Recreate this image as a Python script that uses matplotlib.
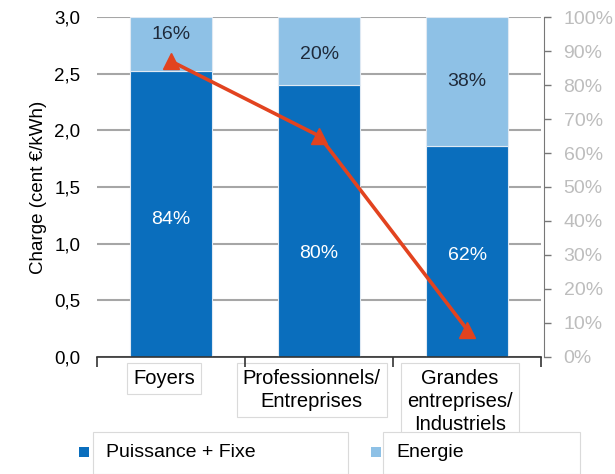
import numpy as np
import matplotlib
matplotlib.use("Agg")
import matplotlib.pyplot as plt
from matplotlib.patches import Rectangle

# charge breakdown per customer segment
categories = ["Foyers", "Professionnels/\nEntreprises", "Grandes\nentreprises/\nIndustriels"]
total_charge = [3.0, 3.0, 3.0]
share_fixed = [84, 80, 62]      # Puissance + Fixe (%)
share_energy = [16, 20, 38]     # Energie (%)
line_pct = [87, 65, 8]          # right axis (%)

# relative height of the in-bar labels inside each segment
fixed_label_pos = [0.48, 0.38, 0.48]
energy_label_pos = [0.68, 0.45, 0.5]

DARK = "#0A6EBD"
LIGHT = "#8EC1E6"
RED = "#E2431F"
GRID = "#A6A6A6"

plt.rcParams["font.family"] = ["Liberation Sans", "DejaVu Sans"]

fig = plt.figure(figsize=(6.15, 4.74), dpi=100)
ax = fig.add_axes([0.158, 0.247, 0.722, 0.717])

x = np.arange(len(categories))
fixed = np.array(total_charge) * np.array(share_fixed) / 100
energy = np.array(total_charge) * np.array(share_energy) / 100

ax.set_axisbelow(True)
ax.yaxis.grid(True, color=GRID, lw=1.5)
w = 0.55
ax.bar(x, fixed, w, color=DARK, edgecolor="#dfe9f3", lw=0.8, zorder=2)
ax.bar(x, energy, w, bottom=fixed, color=LIGHT, edgecolor="#dfe9f3", lw=0.8, zorder=2)

for i, (f, e) in enumerate(zip(fixed, energy)):
    ax.text(x[i], f * fixed_label_pos[i], f"{share_fixed[i]}%", ha="center", va="center",
            color="white", fontsize=14, zorder=3)
    ax.text(x[i], f + e * energy_label_pos[i], f"{share_energy[i]}%", ha="center", va="center",
            color="#1f2a3a", fontsize=14, zorder=3)

ax.set_xlim(-0.5, 2.5)
ax.set_ylim(0, 3.0)
ax.set_yticks(np.arange(0, 3.01, 0.5))
ax.set_yticklabels([f"{v:.1f}".replace(".", ",") for v in np.arange(0, 3.01, 0.5)], fontsize=13.5)
ax.tick_params(axis="y", length=0, pad=12)
ax.set_ylabel("Charge (cent €/kWh)", fontsize=13.5, labelpad=5)

for s in ["top", "left", "right"]:
    ax.spines[s].set_visible(False)
ax.spines["bottom"].set_color("#333333")
ax.spines["bottom"].set_linewidth(1.2)

ax.set_xticks([-0.5, 0.5, 1.5, 2.5], minor=True)
ax.tick_params(axis="x", which="minor", length=7, color="#333333", width=1.2)
ax.set_xticks(x - 0.05)
ax.set_xticklabels(categories, fontsize=14.5, linespacing=1.25)
ax.tick_params(axis="x", which="major", length=0, pad=9)
for lab in ax.get_xticklabels():
    lab.set_va("top")
    lab.set_bbox(dict(boxstyle="square,pad=0.3", fc="white", ec="#dadada", lw=0.8))

# percentage axis on the right
ax2 = ax.twinx()
ax2.set_ylim(0, 100)
ax2.set_yticks(np.arange(0, 101, 10))
ax2.set_yticklabels([f"{v}%" for v in range(0, 101, 10)])
ax2.tick_params(axis="y", length=5, color="#777777", width=1, pad=9,
                labelsize=14, labelcolor="#BDBDBD")
for s in ["top", "left", "bottom"]:
    ax2.spines[s].set_visible(False)
ax2.spines["right"].set_color("#777777")
ax2.spines["right"].set_position(("data", 2.52))
ax2.plot(x, line_pct, color=RED, lw=2.6, marker="^", ms=11, zorder=5)

# legend boxes along the bottom
fig.patches.append(Rectangle((0.151, 0.0), 0.415, 0.088, transform=fig.transFigure,
                             fc="white", ec="#dadada", lw=0.8))
fig.patches.append(Rectangle((0.623, 0.0), 0.32, 0.088, transform=fig.transFigure,
                             fc="white", ec="#dadada", lw=0.8))
fig.patches.append(Rectangle((0.128, 0.035), 0.017, 0.022, transform=fig.transFigure,
                             fc=DARK, ec="none"))
fig.patches.append(Rectangle((0.603, 0.035), 0.017, 0.022, transform=fig.transFigure,
                             fc=LIGHT, ec="none"))
fig.text(0.172, 0.046, "Puissance + Fixe", fontsize=14, va="center")
fig.text(0.645, 0.046, "Energie", fontsize=14, va="center")

fig.savefig("out.png", dpi=100)
